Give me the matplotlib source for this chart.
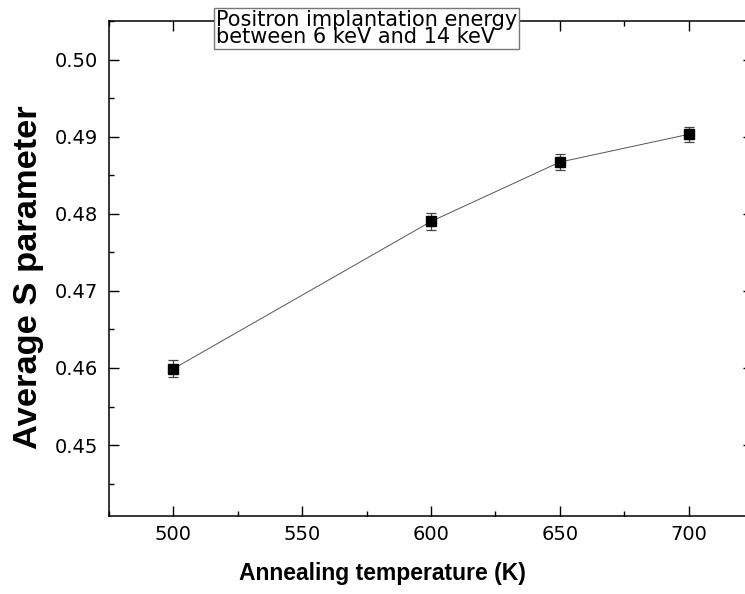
import matplotlib
import matplotlib.pyplot as plt
from matplotlib.ticker import MultipleLocator

matplotlib.use("Agg")

# данные
temperature = [500, 600, 650, 700]
s_param = [0.4599, 0.4790, 0.4867, 0.4903]
s_err = [0.0011, 0.0011, 0.0010, 0.0010]

# в оригинале текст растянут по горизонтали, DejaVu Sans ближе по ширине
plt.rcParams["font.family"] = ["DejaVu Sans"]
label_font = ["Liberation Sans", "DejaVu Sans"]

fig = plt.figure(figsize=(7.45, 5.94), dpi=100)
ax = fig.add_axes([109 / 745, 78 / 594, 644 / 745, 495 / 594])

ax.errorbar(
    temperature, s_param, yerr=s_err,
    color="#555555", lw=0.7,
    marker="s", ms=7.8, mfc="black", mec="black",
    ecolor="#444444", elinewidth=0.9, capsize=3.8, capthick=0.9,
)

ax.set_xlim(475, 725)
ax.set_ylim(0.4408, 0.505)
ax.xaxis.set_major_locator(MultipleLocator(50))
ax.xaxis.set_minor_locator(MultipleLocator(25))
ax.yaxis.set_major_locator(MultipleLocator(0.01))
ax.yaxis.set_minor_locator(MultipleLocator(0.005))
ax.yaxis.set_major_formatter(plt.FuncFormatter(lambda v, _: f"{v:.2f}"))

ax.tick_params(which="both", direction="in", top=True, right=True, width=1.0)
ax.tick_params(which="major", length=7.2, labelsize=14)
ax.tick_params(axis="x", which="major", pad=6.5)
ax.tick_params(axis="y", which="major", pad=8)
ax.tick_params(which="minor", length=3.6)
for sp in ax.spines.values():
    sp.set_linewidth(1.1)

ax.set_xlabel("Annealing temperature (K)", fontsize=16.5, weight="bold",
              family=label_font)
ax.set_ylabel("Average S parameter", fontsize=24.8, weight="bold",
              family=label_font)
ax.xaxis.set_label_coords(0.424, -0.092)
ax.yaxis.set_label_coords(-0.101, 0.483)

fig.text(
    216 / 745, 1 - 10 / 594,
    "Positron implantation energy\nbetween 6 keV and 14 keV",
    fontsize=15, ha="left", va="top", linespacing=0.8,
    bbox=dict(boxstyle="square,pad=0.1", fc="white", ec="#777777", lw=1),
)

fig.savefig("out.png", dpi=100)
plt.close(fig)
